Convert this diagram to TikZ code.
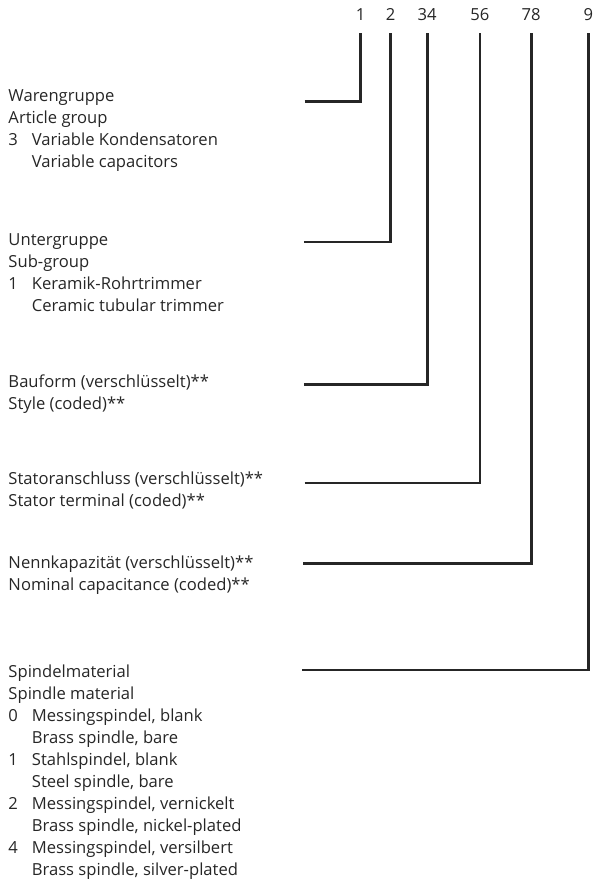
\documentclass[tikz,border=0pt]{standalone}
\usepackage{fontspec}
\setmainfont{Open Sans}
\definecolor{ink}{HTML}{262626}
\definecolor{txt}{HTML}{262626}
\begin{document}
\begin{tikzpicture}[x=1pt,y=-1pt,
  lbl/.style={anchor=base west,inner sep=0pt,text=txt,font=\fontsize{16.6}{22}\selectfont},
  dig/.style={anchor=base,inner sep=0pt,text=txt,font=\fontsize{16.6}{22}\selectfont},
  lead/.style={draw=ink,line width=2.6pt,line join=miter}]
\useasboundingbox (0,0) rectangle (593,881);
\newcommand{\num}[1]{\makebox[23.4pt][l]{#1}}
\newcommand{\ind}{\hspace*{23.4pt}}
% digits
\node[dig] (d1) at (360.5,20.5) {1};
\node[dig] (d2) at (390.7,20.5) {2};
\node[dig] (d3) at (427.2,20.5) {34};
\node[dig] (d4) at (479.9,20.5) {56};
\node[dig] (d5) at (531.2,20.5) {78};
\node[dig] (d6) at (588.3,20.5) {9};
\coordinate (top) at (0,32.7);
% group 1
\node[lbl] (g1a) at (8.3,101.7) {Warengruppe};
\node[lbl] (g1b) at (8.3,123.7) {Article group};
\node[lbl] (g1c) at (8.3,145.7) {\num{3}Variable Kondensatoren};
\node[lbl] (g1d) at (8.3,167.7) {\ind Variable capacitors};
% group 2
\node[lbl] (g2a) at (8.3,245.3) {Untergruppe};
\node[lbl] (g2b) at (8.3,267.3) {Sub-group};
\node[lbl] (g2c) at (8.3,289.3) {\num{1}Keramik-Rohrtrimmer};
\node[lbl] (g2d) at (8.3,311.3) {\ind Ceramic tubular trimmer};
% group 3
\node[lbl] (g3a) at (8.3,387.5) {Bauform (verschlüsselt)**};
\node[lbl] (g3b) at (8.3,409.5) {Style (coded)**};
% group 4
\node[lbl] (g4a) at (8.3,484.5) {Statoranschluss (verschlüsselt)**};
\node[lbl] (g4b) at (8.3,506.5) {Stator terminal (coded)**};
% group 5
\node[lbl] (g5a) at (8.3,568.3) {Nennkapazität (verschlüsselt)**};
\node[lbl] (g5b) at (8.3,590.3) {Nominal capacitance (coded)**};
% group 6
\node[lbl] (g6a) at (8.3,677) {Spindelmaterial};
\node[lbl] (g6b) at (8.3,699) {Spindle material};
\node[lbl] (g6c) at (8.3,721) {\num{0}Messingspindel, blank};
\node[lbl] (g6d) at (8.3,743) {\ind Brass spindle, bare};
\node[lbl] (g6e) at (8.3,765) {\num{1}Stahlspindel, blank};
\node[lbl] (g6f) at (8.3,787) {\ind Steel spindle, bare};
\node[lbl] (g6g) at (8.3,809) {\num{2}Messingspindel, vernickelt};
\node[lbl] (g6h) at (8.3,831) {\ind Brass spindle, nickel-plated};
\node[lbl] (g6i) at (8.3,853) {\num{4}Messingspindel, versilbert};
\node[lbl] (g6j) at (8.3,875) {\ind Brass spindle, silver-plated};
% leader start points
\coordinate (e1) at (304.5,101.3);
\coordinate (e2) at (303.8,242.0);
\coordinate (e3) at (303.8,384.7);
\coordinate (e4) at (304.5,482.8);
\coordinate (e5) at (303.0,563.5);
\coordinate (e6) at (302.0,670.0);
% leaders
\draw[lead] (e1) -| (d1 |- top);
\draw[lead] (e2) -| (d2 |- top);
\draw[lead] (e3) -| (d3 |- top);
\draw[lead] (e4) -| (d4 |- top);
\draw[lead] (e5) -| (d5 |- top);
\draw[lead] (e6) -| (d6 |- top);
\end{tikzpicture}
\end{document}
